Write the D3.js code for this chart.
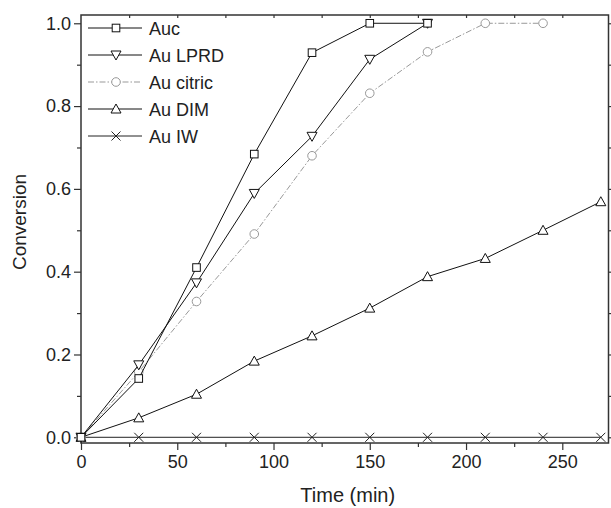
<!DOCTYPE html>
<html><head><meta charset="utf-8">
<script src="https://cdn.jsdelivr.net/npm/d3@7"></script>
<style>body{margin:0;background:#fff}svg{display:block}text{font-family:"Liberation Sans",Arial,sans-serif;fill:#222}</style>
</head><body><svg id="c" width="611" height="508"></svg>
<script>
const seriesNames = ["Auc", "Au LPRD", "Au citric", "Au DIM", "Au IW"];
const timeAuc = [0, 30, 60, 90, 120, 150, 180];
const convAuc = [0, 0.142, 0.41, 0.684, 0.929, 1.0, 1.0];
const timeLPRD = [0, 30, 60, 90, 120, 150, 180];
const convLPRD = [0, 0.175, 0.373, 0.589, 0.727, 0.913, 1.0];
const timeCitric = [0, 30, 60, 90, 120, 150, 180, 210, 240];
const convCitric = [0, 0.158, 0.328, 0.491, 0.68, 0.831, 0.931, 1.0, 1.0];
const timeDIM = [0, 30, 60, 90, 120, 150, 180, 210, 240, 270];
const convDIM = [0, 0.047, 0.104, 0.184, 0.245, 0.312, 0.388, 0.432, 0.5, 0.569];
const timeIW = [0, 30, 60, 90, 120, 150, 180, 210, 240, 270];
const convIW = [0, 0, 0, 0, 0, 0, 0, 0, 0, 0];
const xTicks = [0, 50, 100, 150, 200, 250];
const yTicks = [0.0, 0.2, 0.4, 0.6, 0.8, 1.0];

const svg = d3.select("#c");
const L = 81, R = 608.5, T = 15, B = 443;
const x = d3.scaleLinear().domain([0, 274]).range([L, R]);
const y = d3.scaleLinear().domain([-0.0138, 1.02]).range([B, T]);
const axisColor = "#333";

const gx = svg.append("g").attr("transform", `translate(0,${B})`)
  .call(d3.axisBottom(x).tickValues(xTicks).tickFormat(d3.format("d")).tickSize(7).tickPadding(5));
const gxm = svg.append("g").attr("transform", `translate(0,${B})`)
  .call(d3.axisBottom(x).tickValues(d3.range(25, 275, 50)).tickFormat("").tickSize(4));
const gy = svg.append("g").attr("transform", `translate(${L},0)`)
  .call(d3.axisLeft(y).tickValues(yTicks).tickFormat(d3.format(".1f")).tickSize(7).tickPadding(3));
const gym = svg.append("g").attr("transform", `translate(${L},0)`)
  .call(d3.axisLeft(y).tickValues([0.1, 0.3, 0.5, 0.7, 0.9]).tickFormat("").tickSize(4));
const gt = svg.append("g").attr("transform", `translate(0,${T})`)
  .call(d3.axisTop(x).tickValues(d3.range(25, 275, 25)).tickFormat("").tickSize(-3));
const gr = svg.append("g").attr("transform", `translate(${R},0)`)
  .call(d3.axisRight(y).tickValues(d3.range(0, 1.01, 0.1)).tickFormat("").tickSize(3));
[gx, gxm, gy, gym, gt, gr].forEach(g => {
  g.select(".domain").remove();
  g.selectAll("line").attr("stroke", axisColor).attr("stroke-width", 1.2);
  g.selectAll("text").style("font-size", "18px").attr("fill", "#222");
});
svg.append("rect").attr("x", L).attr("y", T).attr("width", R - L).attr("height", B - T)
  .attr("fill", "none").attr("stroke", axisColor).attr("stroke-width", 1.5);

svg.append("text").attr("x", (L + R) / 2 + 3).attr("y", 502).attr("text-anchor", "middle")
  .style("font-size", "20px").text("Time (min)");
svg.append("text").attr("transform", "translate(26,222) rotate(-90)").attr("text-anchor", "middle")
  .style("font-size", "19px").text("Conversion");

const markerFns = {
  square: (g) => g.append("rect").attr("x", -3.8).attr("y", -3.8).attr("width", 7.6).attr("height", 7.6),
  down: (g) => g.append("path").attr("d", "M-5,-4L5,-4L0,5Z"),
  circle: (g) => g.append("circle").attr("r", 4.3),
  up: (g) => g.append("path").attr("d", "M-5,4L5,4L0,-5Z"),
  cross: (g) => g.append("path").attr("d", "M-4.5,-4.5L4.5,4.5M-4.5,4.5L4.5,-4.5")
};
const series = [
  {name: seriesNames[0], t: timeAuc, v: convAuc, color: "#111", dash: null, mk: "square"},
  {name: seriesNames[1], t: timeLPRD, v: convLPRD, color: "#111", dash: null, mk: "down"},
  {name: seriesNames[2], t: timeCitric, v: convCitric, color: "#999", dash: "6,2,1.5,2", mk: "circle"},
  {name: seriesNames[3], t: timeDIM, v: convDIM, color: "#111", dash: null, mk: "up"},
  {name: seriesNames[4], t: timeIW, v: convIW, color: "#222", dash: null, mk: "cross"}
];
const line = d3.line().x(d => x(d[0])).y(d => y(d[1]));
const plot = svg.append("g");
series.slice().reverse().forEach(s => {
  const pts = s.t.map((t, i) => [t, s.v[i]]);
  plot.append("path").attr("d", line(pts)).attr("fill", "none").attr("stroke", s.color)
    .attr("stroke-width", 1).attr("stroke-dasharray", s.dash);
  pts.forEach(p => {
    const g = plot.append("g").attr("transform", `translate(${x(p[0])},${y(p[1])})`);
    markerFns[s.mk](g).attr("fill", s.mk === "cross" ? "none" : "#fff").attr("stroke", s.color).attr("stroke-width", 1);
  });
});

const leg = svg.append("g");
series.forEach((s, i) => {
  const yy = 28 + i * 27;
  leg.append("line").attr("x1", 88).attr("x2", 142).attr("y1", yy).attr("y2", yy)
    .attr("stroke", s.color).attr("stroke-width", 1).attr("stroke-dasharray", s.dash);
  const g = leg.append("g").attr("transform", `translate(116,${yy})`);
  markerFns[s.mk](g).attr("fill", s.mk === "cross" ? "none" : "#fff").attr("stroke", s.color).attr("stroke-width", 1);
  leg.append("text").attr("x", 149).attr("y", yy + 6.5).style("font-size", "18px").text(s.name);
});
</script></body></html>
